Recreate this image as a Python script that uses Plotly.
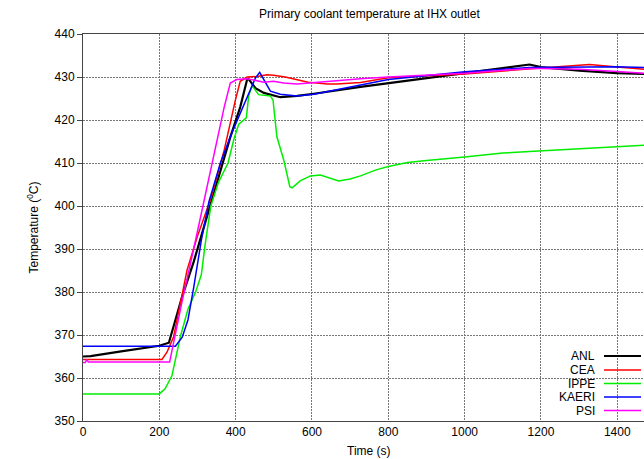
import plotly.graph_objects as go

# ---- data ----
anl_t = [0, 20, 100, 200, 225, 260, 290, 320, 350, 386, 412, 430, 434, 452, 474, 517, 561, 605, 727, 800, 1000, 1170, 1200, 1300, 1400, 1470]
anl_v = [365.0, 365.1, 366.2, 367.5, 368.2, 379, 387, 396, 405, 416, 423, 429.4, 429.5, 427.4, 426.3, 425.3, 425.6, 426.1, 427.7, 428.6, 430.9, 432.9, 432.3, 431.5, 430.9, 430.7]

cea_t = [0, 207, 220, 237.5, 272.6, 300, 336, 370, 399, 412, 430, 456, 482, 499, 530, 561, 590, 613, 640, 665, 700, 727, 800, 1000, 1200, 1327, 1400, 1470]
cea_v = [364.3, 364.3, 366, 369.6, 385.1, 393, 402, 413, 424.5, 429, 430, 430.1, 430.5, 430.4, 430, 429.4, 428.8, 428.6, 428.4, 428.4, 428.5, 428.7, 429.8, 430.7, 432.1, 432.9, 432.3, 431.8]

ippe_t = [0, 200, 215, 233, 255, 275, 295, 310, 320, 335, 355, 380, 395, 408, 428, 434, 443, 460, 491, 498, 508, 526, 542, 548, 570, 596, 622, 645, 670, 700, 727, 768, 800, 850, 900, 1000, 1100, 1170, 1300, 1400, 1470]
ippe_v = [356.3, 356.3, 357.5, 360.5, 369.6, 376, 380, 384, 391, 400, 405.5, 410, 415.4, 419, 420.5, 425.5, 428, 425.9, 425.6, 424.6, 416.1, 410.7, 404.5, 404.2, 405.9, 407, 407.2, 406.5, 405.8, 406.3, 407, 408.4, 409.2, 410.1, 410.6, 411.4, 412.3, 412.7, 413.3, 413.7, 414.1]

kaeri_t = [0, 242, 260, 275, 290, 310, 330, 360, 390, 430, 452, 463, 474, 491, 517, 561, 605, 727, 800, 1000, 1170, 1400, 1470]
kaeri_v = [367.4, 367.4, 369.5, 373.5, 381, 392, 401, 410, 417, 425, 429.8, 431.1, 429.4, 426.7, 426.0, 425.6, 426.0, 428.2, 429.4, 431.2, 432.2, 432.4, 432.2]

psi_t = [0, 6, 10, 14, 227, 260, 290, 316, 345, 370, 386, 403, 430, 456, 474, 499, 526, 561, 600, 648, 727, 800, 1000, 1170, 1200, 1300, 1400, 1470]
psi_v = [363.6, 363.6, 364.3, 363.7, 363.7, 378, 390, 401, 413, 423, 428.6, 429.4, 429.6, 429.2, 428.8, 429, 428.6, 428.4, 428.6, 429, 429.6, 430, 430.9, 432, 432, 431.8, 431.3, 430.9]

names = ["ANL", "CEA", "IPPE", "KAERI", "PSI"]
colors = ["#000000", "#ff0000", "#00ee00", "#0000ff", "#ff00ff"]
widths = [2.2, 1.5, 1.5, 1.5, 1.5]
series = [(anl_t, anl_v), (cea_t, cea_v), (ippe_t, ippe_v), (kaeri_t, kaeri_v), (psi_t, psi_v)]

x_ticks = [0, 200, 400, 600, 800, 1000, 1200, 1400]
y_ticks = [350, 360, 370, 380, 390, 400, 410, 420, 430, 440]

FONT = "Liberation Sans, Arial, sans-serif"

fig = go.Figure()
for (t, v), n, c, w in zip(series, names, colors, widths):
    fig.add_trace(go.Scatter(x=t, y=v, mode="lines", name=n,
                             line=dict(color=c, width=w), showlegend=False))

W, H = 644, 459
L, R, T, B = 83, 0, 34, 38
pw, ph = W - L - R, H - T - B

def px2paper(px, py):
    return (px - L) / pw, (H - B - py) / ph

# custom legend: text right-aligned, line sample on the right
row_y = [356, 370, 383.5, 397, 410.5]
for n, c, yy in zip(names, colors, row_y):
    tx, ty = px2paper(597, yy)
    fig.add_annotation(x=tx, y=ty, xref="paper", yref="paper", text=n,
                       showarrow=False, xanchor="right", yanchor="middle",
                       font=dict(family=FONT, size=12, color="#000"))
    x0, y0 = px2paper(604, yy)
    x1, _ = px2paper(641, yy)
    fig.add_shape(type="line", xref="paper", yref="paper", x0=x0, x1=x1, y0=y0, y1=y0,
                  line=dict(color=c, width=2 if n == "ANL" else 1.5))

# axis titles
fig.add_annotation(x=750, y=-0.055, xref="x", yref="paper", yanchor="top", xanchor="center",
                   text="Time (s)", showarrow=False,
                   font=dict(family=FONT, size=12, color="#000"))
fig.add_annotation(x=(32 - L) / pw, y=0.5, xref="paper", yref="paper",
                   xanchor="center", yanchor="middle",
                   text="Temperature (<sup>0</sup>C)", textangle=-90, showarrow=False,
                   font=dict(family=FONT, size=12, color="#000"))
# title centered over the full (0-1500) axis
fig.add_annotation(x=750, y=(H - B - 14) / ph, xref="x", yref="paper", yanchor="middle",
                   xanchor="center",
                   text="Primary coolant temperature at IHX outlet", showarrow=False,
                   font=dict(family=FONT, size=12, color="#000"))

fig.update_layout(
    width=W, height=H,
    margin=dict(l=L, r=R, t=T, b=B, pad=0),
    paper_bgcolor="white", plot_bgcolor="white",
    font=dict(family=FONT, size=12, color="#000"),
    showlegend=False,
)
fig.update_xaxes(range=[0, 1470], tickvals=x_ticks, ticktext=[str(v) for v in x_ticks],
                 showgrid=True, gridcolor="#777", griddash="2px,1px", gridwidth=1,
                 showline=True, linecolor="#444", linewidth=1, mirror=True,
                 ticks="outside", ticklen=0, zeroline=False,
                 tickfont=dict(family=FONT, size=12, color="#000"))
fig.update_yaxes(range=[350, 440], tickvals=y_ticks, ticktext=[str(v) for v in y_ticks],
                 showgrid=True, gridcolor="#777", griddash="2px,1px", gridwidth=1,
                 showline=True, linecolor="#444", linewidth=1, mirror=False,
                 ticks="outside", ticklen=5, tickcolor="#444", zeroline=False,
                 tickfont=dict(family=FONT, size=12, color="#000"))

fig.write_html("out.html")
